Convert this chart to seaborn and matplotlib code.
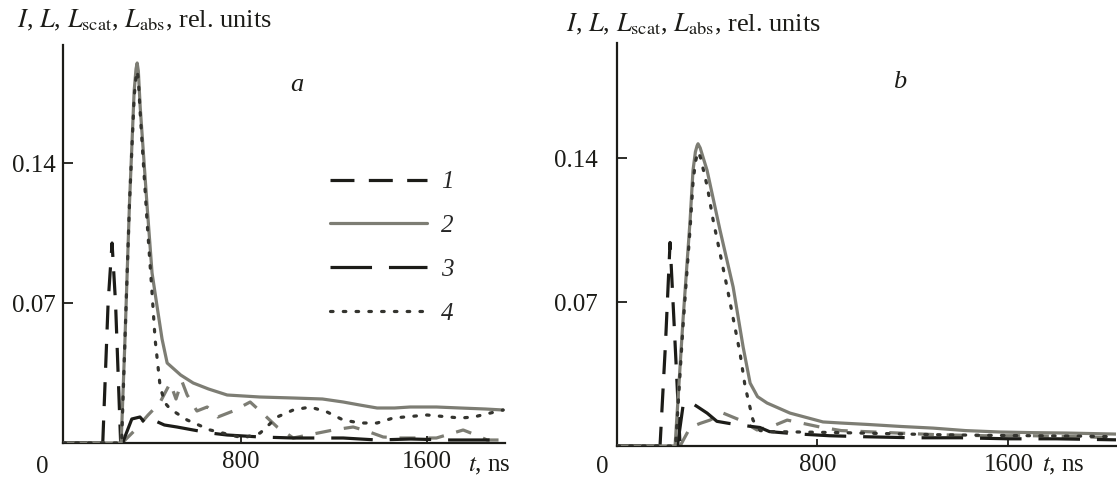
import numpy as np
import pandas as pd
import matplotlib
matplotlib.use("Agg")
import matplotlib.pyplot as plt
from matplotlib.lines import Line2D
import seaborn as sns

# ---------------- data ----------------
# panel a
a_t1 = [34, 205, 228, 245, 260, 282, 300]
a_I = [0, 0, 0.07, 0.100, 0.07, 0, 0]

a_t2 = [34, 284, 300, 320, 340, 348, 353, 358, 366, 396, 417, 439, 460, 482, 540, 594, 660, 740,
        880, 1024, 1150, 1239, 1310, 1385, 1460, 1527, 1640, 1742, 1850, 1927]
a_L = [0, 0, 0.05, 0.12, 0.176, 0.187, 0.190, 0.186, 0.168, 0.118, 0.085, 0.068, 0.052, 0.040, 0.034,
       0.030, 0.027, 0.024, 0.023, 0.0225, 0.022, 0.0205, 0.019, 0.0175, 0.0175, 0.018,
       0.018, 0.0175, 0.017, 0.0165]

a_t3 = [34, 290, 330, 365, 395, 422, 470, 524, 594, 667, 740, 882, 1024, 1170, 1239,
        1385, 1530, 1700, 1927]
a_Lscat = [0, 0, 0.012, 0.013, 0.009, 0.0115, 0.009, 0.008, 0.0065, 0.005, 0.004, 0.003,
           0.0025, 0.0025, 0.0025, 0.0015, 0.002, 0.0015, 0.0015]

a_t4 = [34, 286, 300, 320, 340, 348, 353, 358, 366, 396, 417, 430, 452, 473, 495, 568, 667, 809,
        882, 955, 1024, 1097, 1170, 1239, 1312, 1385, 1454, 1600, 1742, 1800, 1927]
a_Labs = [0, 0, 0.05, 0.12, 0.173, 0.183, 0.186, 0.182, 0.165, 0.11, 0.075, 0.052, 0.028, 0.02, 0.017,
          0.0115, 0.0065, 0.0025, 0.005, 0.013, 0.0165, 0.018, 0.0155, 0.0115, 0.010,
          0.010, 0.0125, 0.014, 0.0125, 0.013, 0.0165]

a_t5 = [288, 340, 400, 450, 495, 520, 545, 568, 610, 654, 700, 766, 839, 900, 955, 1024,
        1110, 1196, 1282, 1340, 1411, 1480, 1560, 1640, 1755, 1810, 1858, 1927]
a_extra = [0, 0.006, 0.014, 0.020, 0.030, 0.022, 0.031, 0.024, 0.016, 0.018, 0.013, 0.016,
           0.0205, 0.014, 0.008, 0.0025, 0.0045, 0.0065, 0.008, 0.006, 0.003, 0.0025,
           0.0025, 0.0025, 0.0065, 0.004, 0.0015, 0.0015]

# panel b
b_t1 = [-38, 142, 165, 184, 205, 226, 240]
b_I = [0, 0, 0.05, 0.099, 0.05, 0, 0]

b_t2 = [-38, 205, 238, 268, 280, 290, 297, 301, 310, 339, 393, 448, 490, 519, 550, 590, 686,
        824, 895, 1008, 1150, 1285, 1420, 1565, 1700, 1845, 2050]
b_L = [0, 0, 0.061, 0.110, 0.134, 0.143, 0.146, 0.147, 0.145, 0.134, 0.105, 0.0773, 0.048,
       0.0306, 0.024, 0.0209, 0.016, 0.0117, 0.0112, 0.0105, 0.0095, 0.0087, 0.0075, 0.0068,
       0.0065, 0.0063, 0.0058]

b_t3 = [-38, 215, 240, 260, 300, 339, 380, 430, 490, 560, 600, 700, 850, 1000, 1200, 1400,
        1600, 1800, 2050]
b_Lscat = [0, 0, 0.021, 0.022, 0.019, 0.016, 0.012, 0.011, 0.010, 0.009, 0.007, 0.006,
           0.005, 0.0045, 0.004, 0.004, 0.0035, 0.0035, 0.003]

b_t4 = [-38, 207, 238, 268, 280, 290, 298, 303, 312, 340, 364, 423, 477, 498, 531, 561, 600,
        728, 900, 1100, 1300, 1500, 1700, 1900, 2050]
b_Labs = [0, 0, 0.058, 0.106, 0.128, 0.138, 0.142, 0.143, 0.140, 0.126, 0.110, 0.077, 0.045,
          0.029, 0.0126, 0.0075, 0.007, 0.0068, 0.0065, 0.006, 0.0055, 0.0052, 0.005, 0.0048,
          0.0045]

b_t5 = [226, 268, 310, 351, 406, 477, 548, 620, 674, 740, 813, 900, 1100, 1300, 1500, 1700,
        1900, 2050]
b_extra = [0, 0.009, 0.011, 0.0126, 0.016, 0.0126, 0.0078, 0.010, 0.0126, 0.011, 0.0092,
           0.0075, 0.0065, 0.0055, 0.005, 0.005, 0.0045, 0.004]

legend_labels = ["1", "2", "3", "4"]
y_ticks = [0.07, 0.14]
y_ticklabels = ["0.07", "0.14"]
x_ticks = [800, 1600]
x_ticklabels = ["800", "1600"]
ylabel_text = r"$I$, $L$, $L_{\mathrm{scat}}$, $L_{\mathrm{abs}}$, rel. units"

# ---------------- style ----------------
sns.set_style("ticks")
plt.rcParams["font.family"] = ["Liberation Serif", "DejaVu Serif"]
plt.rcParams["mathtext.fontset"] = "stix"

BLACK = "#1c1c18"
GRAY = "#7d7d74"
DOTC = "#34342f"
LW = 2.3
FS = 18

styles = {
    1: dict(color=BLACK, linestyle=(0, (7.5, 4.5))),
    2: dict(color=GRAY, linestyle="-"),
    3: dict(color=BLACK, linestyle=(0, (13, 5.3))),
    4: dict(color=DOTC, linestyle=(0, (0.8, 3.2)), dash_capstyle="round"),
    5: dict(color=GRAY, linestyle=(0, (5, 4))),
}

fig = plt.figure(figsize=(11.17, 4.79), dpi=100)
W, H = 1117, 479
axA = fig.add_axes([63 / W, (H - 443) / H, 442 / W, 398 / H])
axB = fig.add_axes([617 / W, (H - 446) / H, 499 / W, 403 / H])


def draw(ax, series):
    for key, (t, v) in series.items():
        sns.lineplot(x=t, y=v, ax=ax, lw=LW, errorbar=None, sort=False,
                     zorder=3 if key != 5 else 2, **styles[key])


draw(axA, {5: (a_t5, a_extra), 1: (a_t1, a_I), 3: (a_t3, a_Lscat),
           2: (a_t2, a_L), 4: (a_t4, a_Labs)})
draw(axB, {5: (b_t5, b_extra), 1: (b_t1, b_I), 3: (b_t3, b_Lscat),
           2: (b_t2, b_L), 4: (b_t4, b_Labs)})

axA.set_xlim(34, 1935)
axA.set_ylim(0, 0.199)
axB.set_xlim(-38, 2050)
axB.set_ylim(0, 0.196)

for ax, ypad in ((axA, 5), (axB, 14)):
    for s in ("top", "right"):
        ax.spines[s].set_visible(False)
    for s in ("left", "bottom"):
        ax.spines[s].set_color(BLACK)
        ax.spines[s].set_linewidth(1.6)
    ax.set_yticks(y_ticks)
    ax.set_yticklabels(y_ticklabels)
    ax.set_xticks(x_ticks)
    ax.set_xticklabels(x_ticklabels)
    ax.tick_params(axis="y", direction="in", length=7, width=1.3, pad=ypad,
                   labelsize=FS, colors=BLACK)
    ax.tick_params(axis="x", direction="in", length=5, width=1.3, pad=6,
                   labelsize=FS, colors=BLACK)
    ax.set_xlabel("")
    ax.set_ylabel("")

# origin labels "0"
fig.text(42 / W, 1 - 467 / H, "0", ha="center", va="center", fontsize=FS, color=BLACK)
fig.text(602 / W, 1 - 467 / H, "0", ha="center", va="center", fontsize=FS, color=BLACK)
# time axis labels
fig.text(468 / W, 1 - 466 / H, r"$t$, ns", ha="left", va="center", fontsize=FS, color=BLACK)
fig.text(1042 / W, 1 - 466 / H, r"$t$, ns", ha="left", va="center", fontsize=FS, color=BLACK)
# y labels on top
fig.text(17 / W, 1 - 20 / H, ylabel_text, ha="left", va="center", fontsize=19, color=BLACK)
fig.text(566 / W, 1 - 24 / H, ylabel_text, ha="left", va="center", fontsize=19, color=BLACK)
# panel letters
axA.text(0.529, 0.9, "a", transform=axA.transAxes, ha="center", va="center",
         fontsize=19, style="italic", color=BLACK)
axB.text(0.567, 0.903, "b", transform=axB.transAxes, ha="center", va="center",
         fontsize=19, style="italic", color=BLACK)

# legend
handles = [Line2D([0], [0], lw=LW, **styles[k]) for k in (1, 2, 3, 4)]
axA.legend(handles, legend_labels, loc="upper left", bbox_to_anchor=(0.604, 0.684),
           frameon=False, handlelength=3.9, handletextpad=0.55, labelspacing=0.85,
           borderpad=0, borderaxespad=0,
           prop=dict(family="Liberation Serif", style="italic", size=FS))

fig.savefig("out.png", dpi=100)
